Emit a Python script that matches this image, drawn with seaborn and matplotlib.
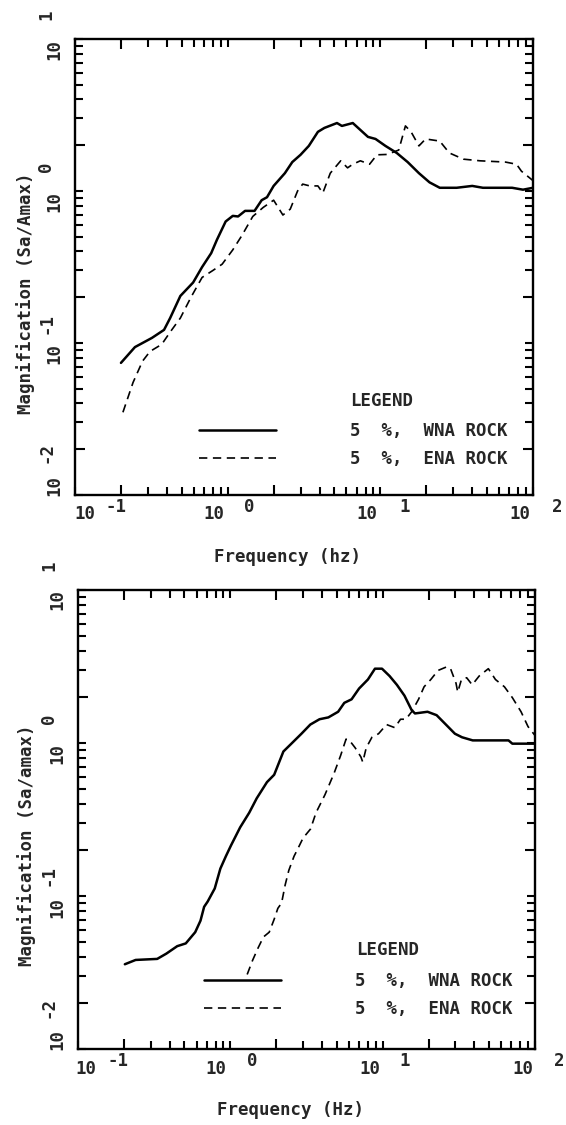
import matplotlib
matplotlib.use("Agg")
import matplotlib.pyplot as plt
from matplotlib.ticker import LogLocator, NullFormatter
import pandas as pd
import seaborn as sns

# ---- spectral magnification data (5 % damping) ----
# upper panel
freq_wna_a = [0.2, 0.247, 0.319, 0.383, 0.42, 0.49, 0.594, 0.68, 0.78, 0.85, 0.97, 1.08,
              1.17, 1.30, 1.50, 1.67, 1.81, 2.0, 2.37, 2.65, 3.0, 3.4, 3.9, 4.3, 5.2, 5.6,
              6.6, 8.3, 9.3, 10.8, 12.8, 15.1, 17.9, 21, 24.5, 31.6, 40, 47, 73, 86, 100]
mag_wna_a = [0.074, 0.094, 0.108, 0.122, 0.146, 0.204, 0.25, 0.316, 0.39, 0.477, 0.63, 0.686,
             0.68, 0.74, 0.74, 0.87, 0.91, 1.08, 1.31, 1.55, 1.73, 1.98, 2.45, 2.6, 2.8, 2.68,
             2.8, 2.27, 2.2, 1.98, 1.78, 1.55, 1.31, 1.14, 1.05, 1.05, 1.08, 1.05, 1.05, 1.02, 1.05]
freq_ena_a = [0.206, 0.24, 0.277, 0.31, 0.37, 0.42, 0.49, 0.575, 0.68, 0.8, 0.92, 1.08, 1.24,
              1.46, 1.71, 2.0, 2.3, 2.57, 2.87, 3.1, 3.45, 3.9, 4.2, 4.7, 5.5, 6.1, 6.6, 7.4,
              8.5, 9.5, 11.1, 13.2, 14.6, 15.9, 17.9, 19.8, 24.5, 28.3, 35, 45, 66, 78, 84, 100]
mag_ena_a = [0.035, 0.055, 0.076, 0.088, 0.098, 0.118, 0.146, 0.2, 0.27, 0.30, 0.33, 0.41, 0.51,
             0.68, 0.78, 0.87, 0.695, 0.76, 1.0, 1.11, 1.08, 1.08, 0.97, 1.31, 1.58, 1.42, 1.5,
             1.58, 1.5, 1.73, 1.74, 1.86, 2.68, 2.45, 1.98, 2.2, 2.13, 1.78, 1.62, 1.58, 1.55,
             1.5, 1.35, 1.17]

# lower panel
freq_wna_b = [0.203, 0.239, 0.331, 0.38, 0.448, 0.51, 0.588, 0.637, 0.673, 0.71, 0.79, 0.86,
              0.935, 1.01, 1.16, 1.33, 1.49, 1.74, 1.94, 2.23, 2.49, 2.93, 3.35, 3.85, 4.4, 5.1,
              5.6, 6.25, 7.0, 8.0, 8.9, 9.9, 11.1, 12.4, 13.9, 15.5, 16.3, 19.7, 22.6, 26, 29.8,
              33.2, 39, 67, 71, 100]
mag_wna_b = [0.0358, 0.0382, 0.0388, 0.042, 0.047, 0.049, 0.058, 0.069, 0.085, 0.092, 0.112,
             0.151, 0.182, 0.214, 0.281, 0.35, 0.435, 0.555, 0.62, 0.88, 0.98, 1.15, 1.32, 1.43,
             1.47, 1.6, 1.83, 1.93, 2.27, 2.6, 3.06, 3.06, 2.74, 2.4, 2.04, 1.64, 1.56, 1.6, 1.52,
             1.32, 1.15, 1.09, 1.04, 1.04, 0.99, 0.99]
freq_ena_b = [1.29, 1.40, 1.52, 1.65, 1.80, 1.94, 2.05, 2.17, 2.29, 2.42, 2.62, 2.77, 3.0, 3.36,
              3.65, 4.18, 4.8, 5.3, 5.75, 6.1, 6.6, 7.2, 7.4, 7.8, 8.5, 9.4, 10.6, 12.0, 13.1,
              14.2, 15.5, 17.2, 18.7, 20.7, 23.1, 26.4, 27.9, 30.3, 31.1, 32.9, 35.6, 38.7, 43,
              49.4, 55, 63, 71, 81, 90, 100]
mag_ena_b = [0.0307, 0.038, 0.0457, 0.054, 0.058, 0.0705, 0.083, 0.09, 0.118, 0.147, 0.182,
             0.203, 0.239, 0.274, 0.35, 0.459, 0.635, 0.83, 1.06, 1.03, 0.93, 0.81, 0.75, 0.93,
             1.09, 1.15, 1.32, 1.26, 1.43, 1.43, 1.6, 1.93, 2.33, 2.6, 2.98, 3.15, 3.06, 2.46,
             2.15, 2.6, 2.67, 2.4, 2.74, 3.06, 2.6, 2.33, 1.98, 1.6, 1.28, 1.12]

freq_decades = [0.1, 1, 10, 100]
freq_exponents = ["-1", "0", "1", "2"]
mag_decades = [10, 1, 0.1, 0.01]
mag_exponents = ["1", "0", "-1", "-2"]
legend_labels = ["5  %,  WNA ROCK", "5  %,  ENA ROCK"]
xlabels = ["Frequency (hz)", "Frequency (Hz)"]
ylabels = ["Magnification (Sa/Amax)", "Magnification (Sa/amax)"]

sns.set_style("ticks")
plt.rcParams["font.family"] = ["DejaVu Sans Mono", "DejaVu Sans"]
plt.rcParams["font.weight"] = "bold"
plt.rcParams["axes.labelweight"] = "bold"
plt.rcParams["lines.scale_dashes"] = False
FS = 12.5

W, H = 566, 1125
fig = plt.figure(figsize=(W / 100, H / 100), dpi=100)
fig.patch.set_facecolor("white")


def box(l, t, r, b):
    return [l / W, 1 - b / H, (r - l) / W, (b - t) / H]


panels = [
    dict(rect=box(75, 39, 533, 495), wna=(freq_wna_a, mag_wna_a), ena=(freq_ena_a, mag_ena_a),
         xlabel=xlabels[0], ylabel=ylabels[0], xl=(0.465, -0.136), yl=(-0.107, 0.443),
         title_xy=(0.600, 0.206), leg_xy=(0.271, 0.110),
         xdx10=[10, -14, -13, -13], xdxe=[41, 22, 24, 24]),
    dict(rect=box(78, 590, 535, 1049), wna=(freq_wna_b, mag_wna_b), ena=(freq_ena_b, mag_ena_b),
         xlabel=xlabels[1], ylabel=ylabels[1], xl=(0.464, -0.133), yl=(-0.112, 0.444),
         title_xy=(0.608, 0.216), leg_xy=(0.276, 0.118),
         xdx10=[8, -14, -13, -12], xdxe=[40, 22, 22, 24]),
]

for p in panels:
    ax = fig.add_axes(p["rect"])
    df_w = pd.DataFrame({"freq": p["wna"][0], "mag": p["wna"][1]})
    df_e = pd.DataFrame({"freq": p["ena"][0], "mag": p["ena"][1]})
    sns.lineplot(data=df_w, x="freq", y="mag", ax=ax, color="black", linewidth=1.8,
                 sort=False, estimator=None, label=legend_labels[0])
    sns.lineplot(data=df_e, x="freq", y="mag", ax=ax, color="black", linewidth=1.2,
                 sort=False, estimator=None, label=legend_labels[1],
                 linestyle=(0, (6, 4)))

    ax.set_xscale("log")
    ax.set_yscale("log")
    ax.set_xlim(0.1, 100)
    ax.set_ylim(0.01, 10)

    for axis in (ax.xaxis, ax.yaxis):
        axis.set_major_locator(LogLocator(base=10, subs=(2.0,), numticks=10))
        axis.set_minor_locator(LogLocator(base=10, subs=(1, 3, 4, 5, 6, 7, 8, 9), numticks=10))
        axis.set_major_formatter(NullFormatter())
        axis.set_minor_formatter(NullFormatter())
    ax.tick_params(which="both", direction="in", top=True, right=True, color="black",
                   width=1.5, labelbottom=False, labelleft=False)
    ax.tick_params(which="major", length=7.5)
    ax.tick_params(which="minor", length=6)
    for s in ax.spines.values():
        s.set_linewidth(1.7)
        s.set_color("black")

    ax.set_xlabel(p["xlabel"], fontsize=FS, fontweight="bold")
    ax.xaxis.set_label_coords(*p["xl"])
    ax.xaxis.label.set_va("center")
    ax.set_ylabel(p["ylabel"], fontsize=FS, fontweight="bold")
    ax.yaxis.set_label_coords(*p["yl"])
    ax.yaxis.label.set_va("center")

    # decade labels written as "10" followed by a raised exponent
    for v, e, d10, de in zip(freq_decades, freq_exponents, p["xdx10"], p["xdxe"]):
        ax.annotate("10", xy=(v, 0), xycoords=("data", "axes fraction"),
                    xytext=(d10, -19.5), textcoords="offset pixels",
                    ha="center", va="center", fontsize=FS, annotation_clip=False)
        ax.annotate(e, xy=(v, 0), xycoords=("data", "axes fraction"),
                    xytext=(de, -12), textcoords="offset pixels",
                    ha="center", va="center", fontsize=FS, annotation_clip=False)
    for v, e, d10, de in zip(mag_decades, mag_exponents, [-10, -10, -11, 9], [24, 24, 20, 42]):
        ax.annotate("10", xy=(0, v), xycoords=("axes fraction", "data"),
                    xytext=(-21, d10), textcoords="offset pixels", rotation=90,
                    ha="center", va="center", fontsize=FS, annotation_clip=False)
        ax.annotate(e, xy=(0, v), xycoords=("axes fraction", "data"),
                    xytext=(-29, de), textcoords="offset pixels", rotation=90,
                    ha="center", va="center", fontsize=FS, annotation_clip=False)

    ax.text(*p["title_xy"], "LEGEND", transform=ax.transAxes, ha="left", va="center",
            fontsize=FS)
    ax.legend(loc="center left", bbox_to_anchor=p["leg_xy"], frameon=False,
              fontsize=FS, handlelength=4.4, handletextpad=4.3, borderpad=0,
              borderaxespad=0, labelspacing=0.55)

fig.savefig("out.png", dpi=100, facecolor="white")
